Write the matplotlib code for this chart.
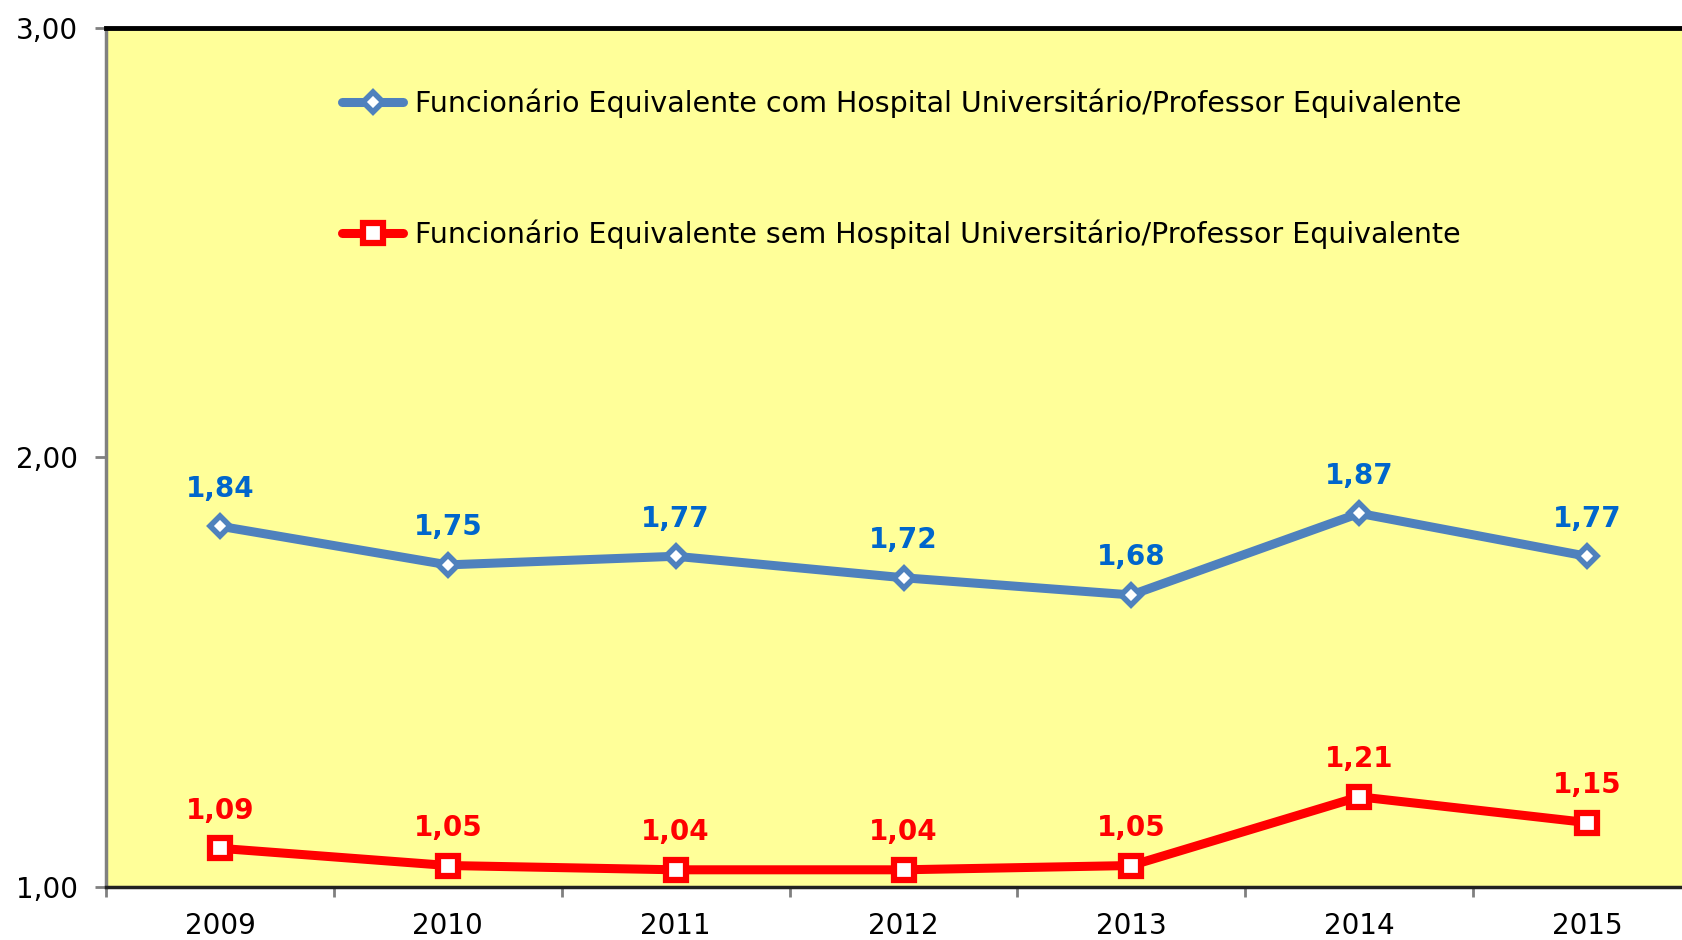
import numpy as np
import matplotlib.pyplot as plt
from matplotlib.lines import Line2D

# -----------------------
# data
# -----------------------
years = ["2009", "2010", "2011", "2012", "2013", "2014", "2015"]
com_hu = [1.84, 1.75, 1.77, 1.72, 1.68, 1.87, 1.77]
sem_hu = [1.09, 1.05, 1.04, 1.04, 1.05, 1.21, 1.15]
label_com = "Funcionário Equivalente com Hospital Universitário/Professor Equivalente"
label_sem = "Funcionário Equivalente sem Hospital Universitário/Professor Equivalente"
y_ticks = [1.0, 2.0, 3.0]

BLUE = "#4F81BD"
BLUE_TXT = "#0066CC"
RED = "#FF0000"
BG = "#FFFF99"
FS = 20

plt.rcParams["font.family"] = ["DejaVu Sans"]

fig = plt.figure(figsize=(16.83, 9.40), dpi=100)
ax = fig.add_axes([0.063, 0.0564, 0.9477, 0.9138])
ax.set_facecolor(BG)

x = np.arange(len(years))
ax.plot(x, com_hu, color=BLUE, lw=6.5, marker="D", ms=10, mfc="white",
        mec=BLUE, mew=4, solid_joinstyle="round", zorder=3)
ax.plot(x, sem_hu, color=RED, lw=6.5, marker="s", ms=14, mfc="white",
        mec=RED, mew=4.5, solid_joinstyle="round", zorder=3)

# value labels
for xi, v in zip(x, com_hu):
    ax.annotate(f"{v:.2f}".replace(".", ","), (xi, v), xytext=(0, 27),
                textcoords="offset points", ha="center", va="center",
                fontsize=FS, fontweight="bold", color=BLUE_TXT)
for xi, v in zip(x, sem_hu):
    ax.annotate(f"{v:.2f}".replace(".", ","), (xi, v), xytext=(0, 27),
                textcoords="offset points", ha="center", va="center",
                fontsize=FS, fontweight="bold", color=RED)

ax.set_xlim(-0.5, len(years) - 0.5)
ax.set_ylim(1.0, 3.0)

# axes / ticks
ax.set_yticks(y_ticks)
ax.set_yticklabels([f"{t:.2f}".replace(".", ",") for t in y_ticks], fontsize=FS)
ax.set_xticks(x)
ax.set_xticklabels(years, fontsize=FS)
ax.set_xticks(np.arange(-0.5, len(years), 1.0), minor=True)
ax.tick_params(axis="x", which="major", length=0, pad=18)
ax.tick_params(axis="x", which="minor", length=7, width=2, color="#808080")
ax.tick_params(axis="y", length=8, width=2, color="#808080", pad=12)

ax.spines["left"].set_color("#808080")
ax.spines["left"].set_linewidth(2.5)
ax.spines["top"].set_color("black")
ax.spines["top"].set_linewidth(3.5)
ax.spines["bottom"].set_color("#222222")
ax.spines["bottom"].set_linewidth(2.5)
ax.spines["right"].set_visible(False)

# legend
handles = [
    Line2D([], [], color=BLUE, lw=6.5, marker="D", ms=10, mfc="white", mec=BLUE,
           mew=4, solid_capstyle="round"),
    Line2D([], [], color=RED, lw=6.5, marker="s", ms=14, mfc="white", mec=RED,
           mew=4.5, solid_capstyle="round"),
]
leg = ax.legend(handles, [label_com, label_sem], loc="upper left",
                bbox_to_anchor=(0.148, 0.93), frameon=False, fontsize=20.5,
                handlelength=2.15, handletextpad=0.4, labelspacing=3.58,
                borderpad=0, borderaxespad=0)

fig.savefig("out.png", dpi=100)
